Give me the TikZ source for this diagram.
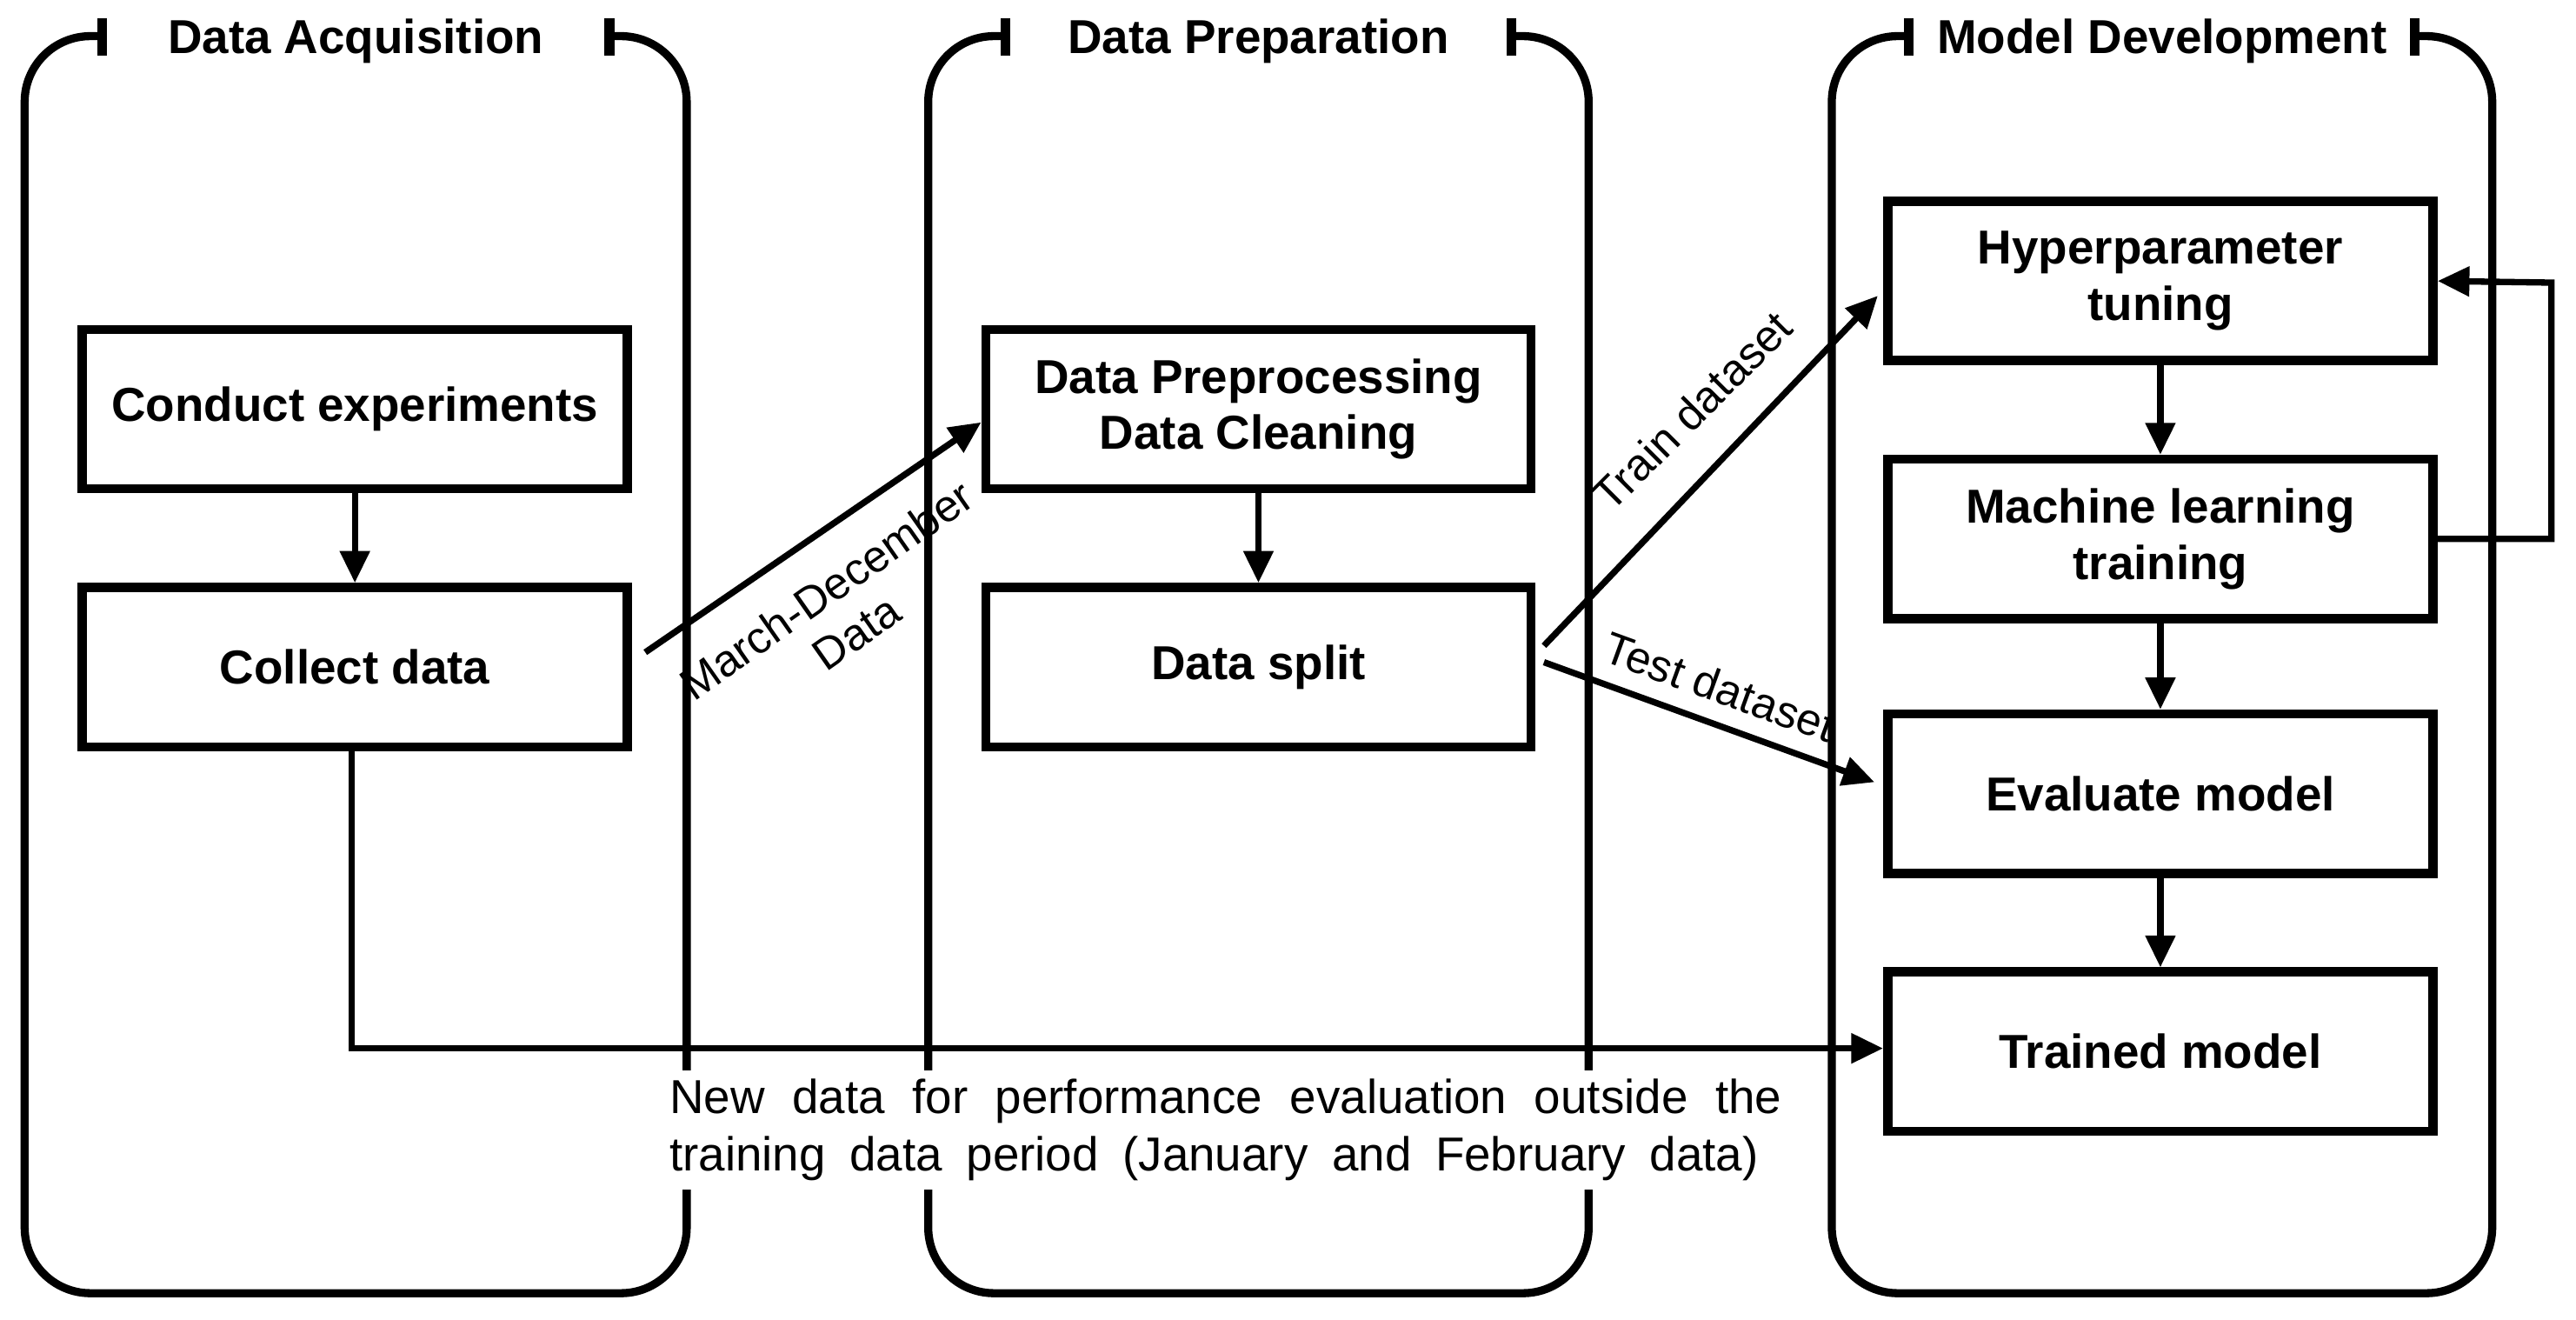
\documentclass[tikz,border=0pt]{standalone}
\usepackage{fontspec}
\setmainfont{Liberation Sans}
\usetikzlibrary{arrows.meta}
\begin{document}
\begin{tikzpicture}[x=0.02cm,y=-0.02cm,
  box/.style={draw,line width=3.2pt,minimum width=6.64cm,minimum height=1.94cm,align=center,font=\fontsize{16.5}{19.5}\selectfont\bfseries,inner sep=0pt},
  panel/.style={line width=2.8pt},
  arr/.style={line width=2.2pt,-{Triangle[length=11pt,width=10pt]}},
  ttl/.style={font=\fontsize{16.5}{19}\selectfont\bfseries,anchor=center},
  lbl/.style={font=\fontsize{15.5}{18}\selectfont}]
\useasboundingbox (0,0) rectangle (1568,803);
\newcommand\mypanel[4]{% x1 x2 title name
  \draw[panel,rounded corners=0.8cm] (#1+47,22) -- (#1,22) -- (#1,787) -- (#2,787) -- (#2,22) -- (#2-47,22);
  \draw[line width=3.4pt] (#1+47,11) -- (#1+47,34);
  \draw[line width=3.4pt] (#2-47,11) -- (#2-47,34);
  \node[ttl] (#4) at ({(#1+#2)/2},25) {#3};}
\mypanel{15}{418}{Data Acquisition}{t1}
\mypanel{565}{967}{Data Preparation}{t2}
\mypanel{1115}{1517}{Model Development}{t3}

\node[box] (ce) at (216,249) {Conduct experiments};
\node[box] (cd) at (216,406) {Collect data};
\node[box] (dp) at (766,249) {Data Preprocessing\\Data Cleaning};
\node[box] (ds) at (766,406) {Data split};
\node[box] (hp) at (1315,171) {Hyperparameter\\tuning};
\node[box] (ml) at (1315,328) {Machine learning\\training};
\node[box] (ev) at (1315,483) {Evaluate model};
\node[box] (tm) at (1315,640) {Trained model};

\draw[arr] (ce) -- (cd);
\draw[arr] (dp) -- (ds);
\draw[arr] (hp) -- (ml);
\draw[arr] (ml) -- (ev);
\draw[arr] (ev) -- (tm);

\draw[arr] (cd.east)+(8,-9) coordinate (a1) (a1) -- (dp.west|-0,257) coordinate (a2);
\node[lbl,rotate=35,align=center] (l1) at (512,372) {March-December\\Data};
\draw[arr] (ds.east)+(5,-13) coordinate (b1) (b1) -- (1143,180) coordinate (b2);
\node[lbl,rotate=45] (l2) at (1030,250) {Train dataset};
\draw[arr] (ds.east)+(5,-3) coordinate (c1) (c1) -- (1141,476) coordinate (c2);
\node[lbl,rotate=-20] (l3) at (1047,418) {Test dataset};

\coordinate (f1) at (1553,328);
\coordinate (f2) at (1553,172);
\draw[arr] (ml.east) -- (f1) -- (f2) -- (hp.east);

\coordinate (g1) at (214,638);
\draw[arr] (cd.south-|g1) -- (g1) -- (tm.west|-g1);
\node[font=\fontsize{16.5}{19}\selectfont,anchor=north west,align=left,inner sep=3pt,fill=white] (nd) at (402,651)
 {\hbox to 13.54cm{New data for performance evaluation outside the}\\[1pt]
  \hbox to 13.26cm{training data period (January and February data)}};
\end{tikzpicture}
\end{document}
